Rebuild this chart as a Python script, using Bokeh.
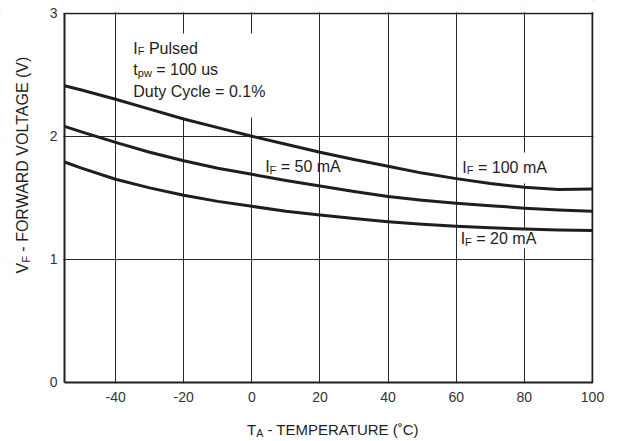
import math
from bokeh.plotting import figure
from bokeh.models import Range1d, FixedTicker, Label, BoxAnnotation, Grid
from bokeh.embed import file_html
from bokeh.resources import INLINE

# ---- data ----
temp_c = [-55, -50, -40, -30, -20, -10, 0, 10, 20, 30, 40, 50, 60, 70, 80, 90, 100]
vf_100ma = [2.41, 2.375, 2.30, 2.22, 2.14, 2.07, 2.00, 1.935, 1.87, 1.81, 1.755, 1.70,
            1.655, 1.615, 1.585, 1.567, 1.57]
vf_50ma = [2.08, 2.035, 1.95, 1.87, 1.80, 1.74, 1.69, 1.64, 1.595, 1.55, 1.51, 1.48,
           1.455, 1.435, 1.415, 1.40, 1.39]
vf_20ma = [1.79, 1.74, 1.65, 1.58, 1.52, 1.47, 1.43, 1.39, 1.36, 1.33, 1.305, 1.285,
           1.268, 1.255, 1.245, 1.238, 1.233]
x_ticks = [-40, -20, 0, 20, 40, 60, 80, 100]
y_ticks = [0, 1, 2, 3]
x_lo, x_hi = -55, 100
y_lo, y_hi = 0, 3

FONT = "Liberation Sans"
INK = "#1e1e1e"
BASE_FIX = 5.5   # raise text baselines (px)

# Arial / Liberation Sans advance widths (em)
W = {' ': .278, '-': .333, '=': .584, '(': .333, ')': .333, '%': .889, '.': .278,
     '˚': .333, 'A': .667, 'C': .722, 'D': .722, 'E': .667, 'F': .611, 'G': .778,
     'I': .278, 'L': .556, 'M': .833, 'O': .778, 'P': .667, 'R': .722, 'T': .611,
     'U': .722, 'V': .667, 'W': .944, 'a': .556, 'c': .5, 'd': .556, 'e': .556,
     'l': .222, 'm': .833, 'p': .556, 's': .5, 't': .278, 'u': .556, 'w': .722, 'y': .5}


def tw(s, size):
    return sum(W.get(ch, .556) for ch in s) * size


# frame fills the whole canvas; axes are pinned at the data edges
PXX = 528 / 155.0   # px per degree
PXY = 123.0         # px per volt
WID, HEI = 620, 440
x_start = x_lo - 64 / PXX
x_end = x_hi + (WID - 592) / PXX
y_end = y_hi + 12.7 / PXY
y_start = y_lo - (HEI - 381.7) / PXY

p = figure(width=WID, height=HEI, output_backend="svg", toolbar_location=None,
           x_range=Range1d(x_start, x_end), y_range=Range1d(y_start, y_end),
           min_border=0)
p.background_fill_color = "white"
p.border_fill_color = "white"
p.outline_line_color = None

for ax in (p.xaxis[0], p.yaxis[0]):
    ax.major_tick_in = 0
    ax.major_tick_out = 0
    ax.minor_tick_in = 0
    ax.minor_tick_out = 0
    ax.axis_line_width = 2
    ax.axis_line_color = INK
    ax.major_label_text_font = FONT
    ax.major_label_text_font_size = "14px"
    ax.major_label_text_color = "#333333"
    ax.axis_label = None
p.xaxis.ticker = FixedTicker(ticks=x_ticks)
p.yaxis.ticker = FixedTicker(ticks=y_ticks)
p.xaxis.major_label_overrides = {t: str(t) for t in x_ticks}
p.yaxis.major_label_overrides = {t: str(t) for t in y_ticks}
p.xaxis.fixed_location = y_lo
p.yaxis.fixed_location = x_lo
p.xaxis.bounds = (x_lo, x_hi)
p.yaxis.bounds = (y_lo, y_hi)
p.xaxis.major_label_standoff = 10
p.yaxis.major_label_standoff = 7

p.xgrid.ticker = FixedTicker(ticks=x_ticks[:-1])
p.ygrid.ticker = FixedTicker(ticks=y_ticks[1:-1])
for g in (p.xgrid[0], p.ygrid[0]):
    g.grid_line_color = "#2a2a2a"
    g.grid_line_width = 1

# top and right frame edges
p.add_layout(Grid(dimension=0, ticker=FixedTicker(ticks=[x_hi]), grid_line_color=INK,
                  grid_line_width=2))
p.add_layout(Grid(dimension=1, ticker=FixedTicker(ticks=[y_hi]), grid_line_color=INK,
                  grid_line_width=1.5))

# white masks outside the plotting area (hide grid lines there)
dx, dy = 1.0 / PXX, 1.0 / PXY
BIG = 1000
for (l, r, b, t) in [(-BIG, x_lo - dx, -BIG, BIG), (x_hi + dx, BIG, -BIG, BIG),
                     (-BIG, BIG, y_hi + dy, BIG), (-BIG, BIG, -BIG, y_lo - dy)]:
    p.add_layout(BoxAnnotation(left=l, right=r, bottom=b, top=t, fill_color="white",
                               fill_alpha=1, line_color=None, level="underlay"))

# white backgrounds behind the texts (cover grid lines only)
for (l, r, b, t) in [(-37.3, 5.4, 2.152, 2.835), (61.3, 87.1, 1.615, 1.867),
                     (60.7, 83.6, 1.09, 1.24)]:
    p.add_layout(BoxAnnotation(left=l, right=r, bottom=b, top=t, fill_color="white",
                               fill_alpha=1, line_color=None, level="underlay"))

for ys in (vf_100ma, vf_50ma, vf_20ma):
    p.line(temp_c, ys, line_color=INK, line_width=3, line_join="round")


def rich(x, y, parts, xo=0.0, yo=0.0, angle=0.0):
    """parts: list of (text, size, baseline_shift_px)."""
    off = 0.0
    for text, size, shift in parts:
        lead = len(text) - len(text.lstrip(" "))
        off += tw(" " * lead, size)
        body = text.lstrip(" ")
        if angle == 0:
            ddx, ddy = xo + off, yo + shift + BASE_FIX
        else:
            ddx, ddy = xo - shift - BASE_FIX, yo + off
        p.add_layout(Label(x=x, y=y, x_offset=ddx, y_offset=ddy, text=body, angle=angle,
                           text_font=FONT, text_font_size=f"{size}px", text_color=INK,
                           text_align="left", text_baseline="alphabetic"))
        off += tw(body, size)


# annotation block
rich(-34.8, 2.67, [("I", 16, 0), ("F", 11, -3), (" Pulsed", 16, 0)])
rich(-34.8, 2.67, [("t", 16, 0), ("pw", 11, -3), (" = 100 us", 16, 0)], yo=-21.5)
rich(-34.8, 2.67, [("Duty Cycle = 0.1%", 16, 0)], yo=-43)

# curve labels
rich(3.9, 1.707, [("I", 16, 0), ("F", 11, -3), (" = 50 mA", 16, 0)])
rich(61.8, 1.702, [("I", 16, 0), ("F", 11, -3), (" = 100 mA", 16, 0)])
rich(61.3, 1.12, [("I", 16, 0), ("F", 11, -3), (" = 20 mA", 16, 0)])

# axis titles
rich(-1.4, -0.433, [("T", 15, 0), ("A", 10.5, -3), (" - TEMPERATURE (˚C)", 15, 0)])
rich(-65.7, 0.884, [("V", 16, 0), ("F", 11, -3), (" - FORWARD VOLTAGE (V)", 16, 0)],
     angle=math.pi / 2)

open("out.html", "w").write(file_html(p, INLINE))
